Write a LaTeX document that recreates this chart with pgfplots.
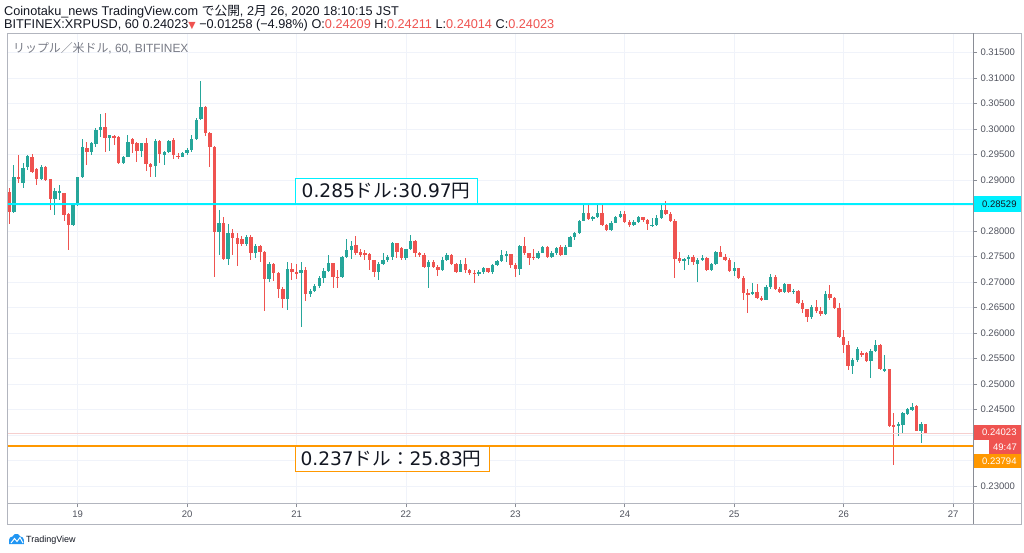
\documentclass[border=0pt]{standalone}
\usepackage{fontspec}
\setmainfont{Liberation Sans}
\newfontfamily\jp{Noto Sans CJK JP}
\newfontfamily\dv{DejaVu Sans}
\usepackage{pgfplots}
\pgfplotsset{compat=1.18}
\usepackage{pgfplotstable}
\definecolor{upc}{HTML}{26A69A}
\definecolor{dnc}{HTML}{EF5350}
\definecolor{cyanl}{HTML}{00F0FF}
\definecolor{orl}{HTML}{FF9800}
\definecolor{gridc}{HTML}{F0F3FA}
\definecolor{bord}{HTML}{B2B5BE}
\definecolor{sep}{HTML}{8A8D96}
\definecolor{txt}{HTML}{131722}
\definecolor{ltxt}{HTML}{50535E}
\definecolor{gtxt}{HTML}{787B86}
\definecolor{pinkl}{HTML}{F6CFCE}
\definecolor{tvblue}{HTML}{2196F3}

\pgfplotstableread{
t o h l c
9 0.28771 0.28837 0.28137 0.28378
10 0.28378 0.29294 0.28360 0.29053
11 0.29065 0.29490 0.28935 0.29014
12 0.28935 0.29327 0.28837 0.29229
13 0.29261 0.29490 0.29196 0.29470
14 0.29457 0.29510 0.29131 0.29163
15 0.29210 0.29229 0.28902 0.29014
16 0.29014 0.29294 0.29000 0.29261
17 0.29261 0.29270 0.28986 0.29000
18 0.29014 0.29020 0.28411 0.28622
19 0.28622 0.28837 0.28313 0.28790
20 0.28765 0.28902 0.28608 0.28780
21 0.28739 0.28751 0.28201 0.28313
22 0.28330 0.28350 0.27627 0.28117
23 0.28117 0.28555 0.28098 0.28509
24 0.28509 0.29065 0.28490 0.29053
25 0.29060 0.29798 0.29040 0.29641
26 0.29621 0.29751 0.29294 0.29555
27 0.29555 0.29751 0.29490 0.29719
28 0.29706 0.30013 0.29641 0.29980
29 0.29980 0.30294 0.29849 0.30033
30 0.30045 0.30307 0.29555 0.29817
31 0.29817 0.29890 0.29575 0.29876
32 0.29868 0.29882 0.29686 0.29837
33 0.29849 0.29862 0.29314 0.29327
34 0.29340 0.29470 0.29320 0.29457
35 0.29460 0.29882 0.29445 0.29751
36 0.29798 0.29817 0.29523 0.29706
37 0.29731 0.29751 0.29359 0.29575
38 0.29575 0.29731 0.29445 0.29719
39 0.29731 0.29817 0.29182 0.29314
40 0.29314 0.29339 0.29053 0.29261
41 0.29275 0.29798 0.29065 0.29771
42 0.29771 0.29784 0.29327 0.29510
43 0.29490 0.29575 0.29294 0.29555
44 0.29555 0.29784 0.29535 0.29771
45 0.29784 0.29817 0.29406 0.29490
46 0.29476 0.29523 0.29406 0.29457
47 0.29457 0.29555 0.29445 0.29535
48 0.29530 0.29621 0.29490 0.29588
49 0.29588 0.29882 0.29555 0.29798
50 0.29798 0.30209 0.29780 0.30176
51 0.30190 0.30947 0.30170 0.30425
52 0.30437 0.30451 0.29862 0.29915
53 0.29915 0.29947 0.29249 0.29641
54 0.29641 0.29660 0.27098 0.27986
55 0.27986 0.28411 0.27529 0.28166
56 0.28166 0.28280 0.27431 0.27455
57 0.27455 0.28137 0.27333 0.27960
58 0.27960 0.28033 0.27529 0.27856
59 0.27856 0.27954 0.27314 0.27745
60 0.27837 0.27902 0.27706 0.27745
61 0.27745 0.27921 0.27706 0.27892
62 0.27892 0.27921 0.27431 0.27562
63 0.27562 0.27745 0.27470 0.27706
64 0.27706 0.27725 0.27392 0.27582
65 0.27582 0.27608 0.26437 0.27053
66 0.27053 0.27392 0.27000 0.27353
67 0.27353 0.27373 0.27020 0.27170
68 0.27170 0.27196 0.26680 0.26857
69 0.26857 0.26902 0.26484 0.26660
70 0.26660 0.27398 0.26451 0.27249
71 0.27249 0.27379 0.27039 0.27202
72 0.27202 0.27353 0.27059 0.27170
73 0.27170 0.27398 0.26123 0.27235
74 0.27235 0.27300 0.26633 0.26765
75 0.26765 0.26863 0.26706 0.26830
76 0.26830 0.26961 0.26804 0.26922
77 0.26922 0.27118 0.26882 0.27072
78 0.27072 0.27274 0.26980 0.27222
79 0.27222 0.27529 0.27196 0.27366
80 0.27366 0.27379 0.26876 0.27104
81 0.27104 0.27235 0.26876 0.27092
82 0.27092 0.27510 0.27078 0.27484
83 0.27484 0.27837 0.27470 0.27627
84 0.27627 0.27810 0.27445 0.27706
85 0.27725 0.27902 0.27529 0.27562
86 0.27580 0.27641 0.27484 0.27529
87 0.27562 0.27627 0.27431 0.27523
88 0.27543 0.27574 0.27235 0.27431
89 0.27431 0.27440 0.27092 0.27202
90 0.27202 0.27392 0.27039 0.27353
91 0.27353 0.27562 0.27333 0.27431
92 0.27431 0.27529 0.27392 0.27484
93 0.27484 0.27790 0.27431 0.27758
94 0.27758 0.27765 0.27465 0.27594
95 0.27660 0.27686 0.27431 0.27465
96 0.27465 0.27647 0.27431 0.27641
97 0.27641 0.27921 0.27627 0.27810
98 0.27810 0.27823 0.27496 0.27562
99 0.27562 0.27588 0.27490 0.27529
100 0.27529 0.27574 0.27268 0.27300
101 0.27300 0.27431 0.26876 0.27398
102 0.27398 0.27431 0.27274 0.27300
103 0.27300 0.27333 0.27118 0.27235
104 0.27235 0.27484 0.27222 0.27431
105 0.27431 0.27562 0.27420 0.27529
106 0.27529 0.27540 0.27333 0.27353
107 0.27353 0.27373 0.27170 0.27202
108 0.27202 0.27431 0.27190 0.27353
109 0.27353 0.27465 0.27182 0.27235
110 0.27235 0.27255 0.27137 0.27182
111 0.27182 0.27235 0.26986 0.27157
112 0.27157 0.27235 0.27118 0.27202
113 0.27202 0.27300 0.27157 0.27268
114 0.27268 0.27274 0.27170 0.27202
115 0.27202 0.27353 0.27157 0.27333
116 0.27333 0.27431 0.27320 0.27418
117 0.27418 0.27627 0.27398 0.27529
118 0.27516 0.27614 0.27398 0.27543
119 0.27543 0.27549 0.27268 0.27333
120 0.27333 0.27373 0.27092 0.27249
121 0.27249 0.27725 0.27137 0.27706
122 0.27706 0.27888 0.27529 0.27562
123 0.27562 0.27575 0.27333 0.27465
124 0.27496 0.27641 0.27431 0.27465
125 0.27465 0.27608 0.27451 0.27574
126 0.27574 0.27706 0.27560 0.27680
127 0.27680 0.27706 0.27470 0.27496
128 0.27496 0.27608 0.27465 0.27574
129 0.27574 0.27686 0.27529 0.27660
130 0.27680 0.27725 0.27510 0.27529
131 0.27529 0.27725 0.27520 0.27692
132 0.27692 0.27902 0.27680 0.27876
133 0.27876 0.27986 0.27823 0.27967
134 0.27967 0.28215 0.27941 0.28202
135 0.28202 0.28529 0.28196 0.28346
136 0.28346 0.28509 0.28215 0.28229
137 0.28229 0.28294 0.28196 0.28268
138 0.28268 0.28509 0.28255 0.28346
139 0.28346 0.28529 0.28098 0.28117
140 0.28117 0.28137 0.28000 0.28019
141 0.28019 0.28196 0.28005 0.28163
142 0.28163 0.28294 0.28150 0.28268
143 0.28268 0.28398 0.28255 0.28333
144 0.28333 0.28398 0.28157 0.28182
145 0.28182 0.28215 0.28078 0.28117
146 0.28117 0.28215 0.28098 0.28182
147 0.28182 0.28294 0.28157 0.28268
148 0.28268 0.28280 0.28176 0.28215
149 0.28215 0.28235 0.28019 0.28131
150 0.28110 0.28248 0.28078 0.28125
151 0.28125 0.28313 0.28098 0.28261
152 0.28261 0.28509 0.28235 0.28411
153 0.28411 0.28588 0.28313 0.28327
154 0.28327 0.28372 0.28176 0.28196
155 0.28196 0.28235 0.27078 0.27445
156 0.27465 0.27588 0.27373 0.27412
157 0.27412 0.27470 0.27235 0.27451
158 0.27451 0.27529 0.27333 0.27496
159 0.27496 0.27529 0.27333 0.27402
160 0.27360 0.27470 0.27006 0.27431
161 0.27431 0.27529 0.27412 0.27476
162 0.27476 0.27490 0.27216 0.27235
163 0.27235 0.27373 0.27225 0.27347
164 0.27347 0.27608 0.27333 0.27582
165 0.27582 0.27712 0.27490 0.27496
166 0.27496 0.27549 0.27412 0.27431
167 0.27431 0.27470 0.27196 0.27216
168 0.27216 0.27392 0.27118 0.27268
169 0.27268 0.27280 0.27059 0.27084
170 0.27084 0.27118 0.26647 0.26778
171 0.26778 0.26863 0.26402 0.26765
172 0.26765 0.26980 0.26745 0.26810
173 0.26810 0.26961 0.26667 0.26692
174 0.26692 0.26725 0.26627 0.26647
175 0.26647 0.26941 0.26640 0.26908
176 0.26908 0.27157 0.26863 0.27098
177 0.27098 0.27137 0.26843 0.26869
178 0.26869 0.26902 0.26784 0.26810
179 0.26810 0.26980 0.26784 0.26955
180 0.26955 0.26961 0.26784 0.26810
181 0.26810 0.26863 0.26758 0.26820
182 0.26820 0.26843 0.26568 0.26598
183 0.26598 0.26647 0.26392 0.26464
184 0.26464 0.26470 0.26211 0.26307
185 0.26307 0.26549 0.26268 0.26519
186 0.26519 0.26647 0.26392 0.26441
187 0.26441 0.26510 0.26333 0.26372
188 0.26372 0.26829 0.26353 0.26765
189 0.26765 0.26941 0.26647 0.26680
190 0.26680 0.26706 0.26470 0.26484
191 0.26484 0.26588 0.25902 0.25927
192 0.25927 0.26059 0.25602 0.25765
193 0.25765 0.25843 0.25274 0.25353
194 0.25353 0.25510 0.25196 0.25470
195 0.25470 0.25725 0.25431 0.25680
196 0.25614 0.25647 0.25529 0.25569
197 0.25602 0.25627 0.25431 0.25457
198 0.25457 0.25686 0.25111 0.25653
199 0.25653 0.25863 0.25627 0.25765
200 0.25765 0.25775 0.25274 0.25288
201 0.25270 0.25569 0.25235 0.25290
202 0.25290 0.25300 0.24157 0.24176
203 0.24190 0.24425 0.23412 0.24170
204 0.24170 0.24255 0.23980 0.24216
205 0.24196 0.24451 0.24019 0.24425
206 0.24412 0.24529 0.24392 0.24504
207 0.24490 0.24633 0.24470 0.24555
208 0.24568 0.24588 0.24078 0.24084
209 0.24084 0.24255 0.23849 0.24209
210 0.24209 0.24211 0.24014 0.24023
}\candles

\pgfplotsset{candle/.style={only marks, mark=*, mark size=0pt,
  mark options={draw=none, fill=none}, forget plot}}

\begin{document}
\begin{tikzpicture}[x=1pt,y=1pt]
\path[use as bounding box] (0,0) rectangle (1024,-552);
\fill[white] (0,0) rectangle (1024,-552);
\begin{axis}[
  at={(7pt,-503pt)}, anchor=south west,
  scale only axis, width=966pt, height=470pt,
  xmin=8.49, xmax=220.38, ymin=0.22667, ymax=0.31882,
  axis line style={bord, line width=1pt},
  xtick={24,48,72,96,120,144,168,192,216},
  xticklabels={19,20,21,22,23,24,25,26,27},
  ytick={0.230,0.235,0.240,0.245,0.250,0.255,0.260,0.265,0.270,0.275,0.280,0.285,0.290,0.295,0.300,0.305,0.310,0.315},
  yticklabels={0.23000,,,0.24500,0.25000,0.25500,0.26000,0.26500,0.27000,0.27500,0.28000,,0.29000,0.29500,0.30000,0.30500,0.31000,0.31500},
  scaled y ticks=false,
  xtick pos=lower, ytick pos=upper,
  yticklabel pos=right,
  tick align=outside, major tick length=4pt,
  tick style={sep, line width=0.8pt},
  grid=major, major grid style={gridc, line width=0.8pt},
  yticklabel style={font=\fontsize{9.5}{11}\selectfont, text=ltxt, anchor=west},
  xticklabel style={font=\fontsize{9.5}{11}\selectfont, text=ltxt},
]
% wicks
\addplot[candle, error bars/.cd, y dir=both, y explicit, error mark=none,
  error bar style={upc, line width=1pt}]
  table[x=t, y expr={\thisrow{c}>=\thisrow{o} ? (\thisrow{h}+\thisrow{l})/2 : nan},
         y error expr={(\thisrow{h}-\thisrow{l})/2}] {\candles};
\addplot[candle, error bars/.cd, y dir=both, y explicit, error mark=none,
  error bar style={dnc, line width=1pt}]
  table[x=t, y expr={\thisrow{c}<\thisrow{o} ? (\thisrow{h}+\thisrow{l})/2 : nan},
         y error expr={(\thisrow{h}-\thisrow{l})/2}] {\candles};
% bodies
\addplot[candle, error bars/.cd, y dir=both, y explicit, error mark=none,
  error bar style={upc, line width=3.4pt}]
  table[x=t, y expr={\thisrow{c}>=\thisrow{o} ? (\thisrow{o}+\thisrow{c})/2 : nan},
         y error expr={max(abs(\thisrow{c}-\thisrow{o})/2,0.00009)}] {\candles};
\addplot[candle, error bars/.cd, y dir=both, y explicit, error mark=none,
  error bar style={dnc, line width=3.4pt}]
  table[x=t, y expr={\thisrow{c}<\thisrow{o} ? (\thisrow{o}+\thisrow{c})/2 : nan},
         y error expr={max(abs(\thisrow{c}-\thisrow{o})/2,0.00009)}] {\candles};
% horizontal lines
\addplot[pinkl, line width=1pt, forget plot] coordinates {(8.49,0.24023) (220.38,0.24023)};
\addplot[cyanl, line width=2pt, forget plot] coordinates {(8.49,0.28529) (220.38,0.28529)};
\addplot[orl, line width=2pt, forget plot] coordinates {(8.49,0.23794) (220.38,0.23794)};
\end{axis}

% frame
\draw[bord, line width=1pt] (7,-33) rectangle (1021,-524);
\draw[sep, line width=1pt] (973,-33) -- (973,-524);
\draw[bord, line width=1pt] (7,-503) -- (1021,-503);

% annotation boxes
\draw[cyanl, line width=1pt, fill=white] (295,-178) rectangle (477,-203.5);
\node[anchor=center, inner sep=0, text=txt, font=\dv\fontsize{18.6}{21}\selectfont] at (386,-191) {0.285{\jp ドル}:30.97{\jp 円}};
\draw[orl, line width=1pt, fill=white] (295,-446.5) rectangle (489,-471);
\node[anchor=center, inner sep=0, text=txt, font=\dv\fontsize{18.6}{21}\selectfont] at (391,-459) {0.237{\jp ドル：}25.83{\jp 円}};

% price labels on the scale
\fill[cyanl] (973.5,-196) rectangle (1021,-212);
\node[anchor=west, inner sep=0, text=txt, font=\fontsize{9.5}{11}\selectfont] at (982,-204) {0.28529};
\fill[dnc] (973.5,-425) rectangle (1021,-440);
\node[anchor=west, inner sep=0, text=white, font=\fontsize{9.5}{11}\selectfont] at (982,-432.5) {0.24023};
\fill[dnc] (989,-440) rectangle (1021,-454);
\node[anchor=center, inner sep=0, text=white, font=\fontsize{9.5}{11}\selectfont] at (1005,-447) {49:47};
\fill[orl] (973.5,-454) rectangle (1021,-468);
\node[anchor=west, inner sep=0, text=white, font=\fontsize{9.5}{11}\selectfont] at (982,-461) {0.23794};

% header
\node[anchor=base west, inner sep=0, text=txt, font=\fontsize{12.7}{14}\selectfont] at (4,-15)
  {Coinotaku\_news TradingView.com {\jp で公開}, 2{\jp 月} 26, 2020 18:10:15 JST};
\node[anchor=base west, inner sep=0, text=txt, font=\fontsize{12.7}{14}\selectfont] at (4,-28.5)
  {BITFINEX:XRPUSD, 60 0.24023{\color{dnc}\dv\fontsize{9.5}{10}\selectfont ▼} −0.01258 (−4.98\%) O:{\color{dnc}0.24209} H:{\color{dnc}0.24211} L:{\color{dnc}0.24014} C:{\color{dnc}0.24023}};
\node[anchor=base west, inner sep=0, text=gtxt, font=\fontsize{11.9}{13}\selectfont] at (13,-52)
  {{\jp リップル／米ドル}, 60, BITFINEX};

% footer logo
\fill[tvblue] (9,-544) -- (9,-540) arc (180:90:3.5) arc (160:20:4.2) arc (90:0:3.5) -- (24,-544) -- cycle;
\draw[white, line width=1pt] (11,-543) -- (14.5,-538.5) -- (17,-541.5) -- (20,-537.5) -- (23,-543);
\node[anchor=west, inner sep=0, text=txt, font=\fontsize{9}{10}\selectfont] at (26,-540) {TradingView};
\end{tikzpicture}
\end{document}
